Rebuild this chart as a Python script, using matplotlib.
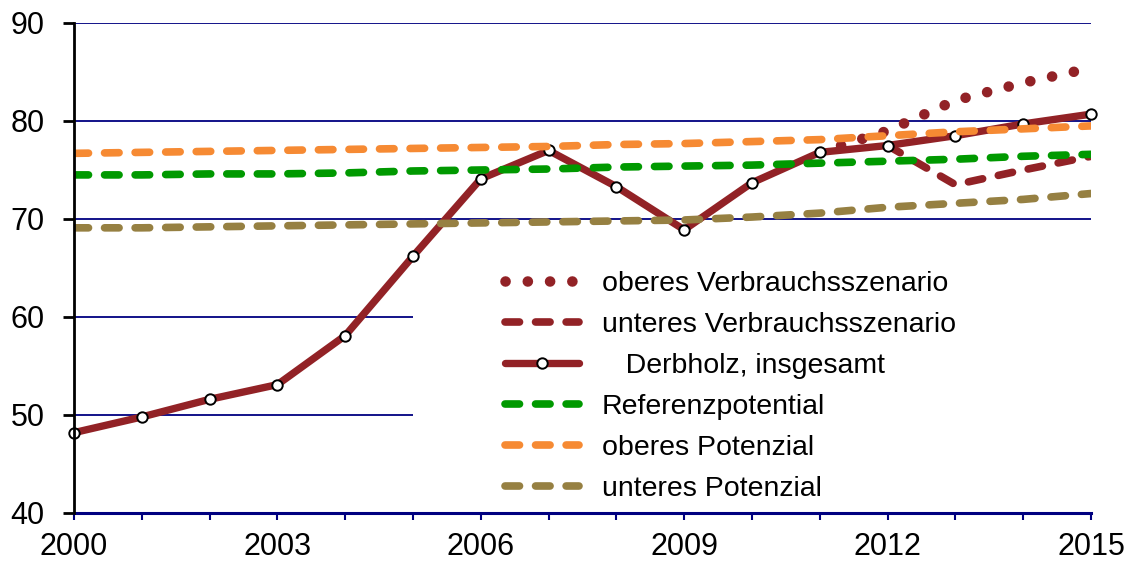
import matplotlib
matplotlib.use("Agg")
import matplotlib.pyplot as plt

plt.rcParams["font.family"] = ["Liberation Sans", "DejaVu Sans"]

YEARS = list(range(2000, 2016))
DERBHOLZ = [48.2, 49.8, 51.6, 53.1, 58.1, 66.2, 74.1, 77.0,
            73.3, 68.9, 73.7, 76.8, 77.5, 78.5, 79.7, 80.7]

UPPER_SCEN_YEARS = [2011, 2012, 2013, 2014, 2015]
UPPER_SCEN = [76.8, 79.0, 82.1, 83.9, 85.4]

LOWER_SCEN_YEARS = [2012, 2013, 2014, 2015]
LOWER_SCEN = [77.5, 73.5, 75.0, 76.4]

REFERENZ = [74.5, 74.5, 74.6, 74.6, 74.7, 74.9, 75.0, 75.1,
            75.3, 75.4, 75.5, 75.7, 75.9, 76.1, 76.4, 76.6]
OBERES_POT = [76.7, 76.8, 76.9, 77.0, 77.1, 77.2, 77.3, 77.4,
              77.6, 77.7, 77.9, 78.1, 78.5, 78.9, 79.2, 79.5]
UNTERES_POT = [69.1, 69.1, 69.2, 69.3, 69.4, 69.5, 69.6, 69.7,
               69.8, 69.9, 70.2, 70.6, 71.2, 71.6, 72.0, 72.6]

LABELS = ["oberes Verbrauchsszenario", "unteres Verbrauchsszenario",
          "   Derbholz, insgesamt", "Referenzpotential",
          "oberes Potenzial", "unteres Potenzial"]

RED = "#922226"
GREEN = "#009900"
ORANGE = "#F68A33"
OLIVE = "#968042"
NAVY = "#000080"

DASH = (0, (1.9, 2.1))
DOT = (0, (0.01, 2.1))

fig = plt.figure(figsize=(11.28, 5.65), dpi=100)
ax = fig.add_axes([74 / 1128, 1 - 513 / 565, (1091 - 74) / 1128, (513 - 23) / 565])

# Gitterlinien: 60 und 50 nur bis 2005 (Legende)
for y in (70, 80, 90):
    ax.hlines(y, 2000, 2015, color=NAVY, lw=1.3, zorder=1)
for y in (50, 60):
    ax.hlines(y, 2000, 2005, color=NAVY, lw=1.3, zorder=1)

l1, = ax.plot(UPPER_SCEN_YEARS, UPPER_SCEN, color=RED, lw=7.6,
              linestyle=DOT, dash_capstyle="round", zorder=3)
l2, = ax.plot(LOWER_SCEN_YEARS, LOWER_SCEN, color=RED, lw=5.5,
              linestyle=DASH, dash_capstyle="round", zorder=3)
l3, = ax.plot(YEARS, DERBHOLZ, color=RED, lw=5.3, marker="o", markersize=7.5,
              markerfacecolor="white", markeredgecolor="black",
              markeredgewidth=1.4, solid_capstyle="round", zorder=4,
              clip_on=False)
l4, = ax.plot(YEARS, REFERENZ, color=GREEN, lw=5.5, linestyle=DASH,
              dash_capstyle="round", zorder=5)
l5, = ax.plot(YEARS, OBERES_POT, color=ORANGE, lw=5.5, linestyle=DASH,
              dash_capstyle="round", zorder=5)
l6, = ax.plot(YEARS, UNTERES_POT, color=OLIVE, lw=5.5, linestyle=DASH,
              dash_capstyle="round", zorder=5)

ax.set_xlim(2000, 2015)
ax.set_ylim(40, 90)

ax.set_yticks(range(40, 91, 10))
ax.set_xticks(range(2000, 2016, 3))
ax.set_xticks(YEARS, minor=True)

for side in ("top", "right"):
    ax.spines[side].set_visible(False)
ax.spines["left"].set_color("black")
ax.spines["left"].set_linewidth(2)
ax.spines["bottom"].set_color(NAVY)
ax.spines["bottom"].set_linewidth(2.2)
ax.spines["left"].set_zorder(6)

ax.tick_params(axis="y", direction="out", length=8, width=2, color="black",
               labelsize=22, pad=13)
ax.tick_params(axis="x", which="both", direction="out", length=5, width=1.5,
               color=NAVY, labelsize=22, pad=9)

ax.legend([l1, l2, l3, l4, l5, l6], LABELS, loc="upper left",
          bbox_to_anchor=(505 / 1128, 1 - 271 / 565), bbox_transform=fig.transFigure,
          frameon=False, fontsize=20.5, handlelength=2.6, handletextpad=0.8,
          labelspacing=0.53, borderpad=0, borderaxespad=0)

fig.savefig("out.png", dpi=100)
